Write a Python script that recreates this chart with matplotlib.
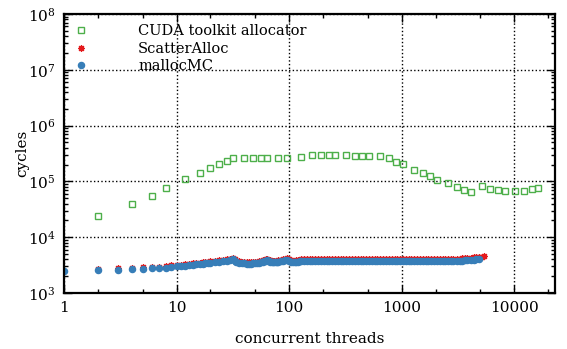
import matplotlib
matplotlib.use("Agg")
import matplotlib.pyplot as plt
from matplotlib.ticker import LogLocator, LogFormatterMathtext, FixedLocator, FixedFormatter, NullFormatter

plt.rcParams['font.family'] = 'DejaVu Serif'
plt.rcParams['mathtext.fontset'] = 'dejavuserif'

# CUDA toolkit allocator
cuda_x = [2, 4, 6, 8, 12, 16, 20, 24, 28, 32, 40, 48, 56, 64, 80, 96, 128, 160, 192, 224,
          256, 320, 384, 448, 512, 640, 768, 896, 1024, 1280, 1536, 1792, 2048, 2560, 3072,
          3584, 4096, 5120, 6144, 7168, 8192, 10240, 12288, 14336, 16384]
cuda_y = [23800, 39400, 55600, 76300, 108600, 139000, 170700, 201000, 231400, 261600,
          257500, 257500, 261600, 261600, 261600, 265000, 268500, 300000, 300000, 300000,
          300000, 296000, 291000, 291000, 291000, 287500, 257500, 225000, 201000, 160000,
          139000, 122700, 107200, 92000, 78100, 71100, 63600, 82800, 74200, 71100, 66200,
          68200, 68200, 71900, 75000]

# thread counts, small part (1..124) and flat part (128..4864)
low_x = [1, 2, 3, 4, 5, 6, 7, 8, 9, 10, 11, 12, 13, 14, 15, 16, 17, 18, 19, 20,
         22, 24, 26, 28, 30, 32,
         33, 34, 36, 38, 40, 42, 44, 46, 48, 50, 52, 54, 56, 58, 60, 62, 64,
         66, 68, 70, 72, 74, 76, 78, 80,
         84, 88, 92, 96, 100, 104, 108, 112, 116, 120, 124]
high_x = [128, 136, 144, 152, 160, 170, 180, 192,
          204, 216, 228, 240, 256, 272, 288, 304,
          320, 340, 360, 384, 408, 432, 456, 480,
          512, 544, 576, 608, 640, 680, 720, 768,
          816, 864, 912, 960, 1024, 1088, 1152, 1216,
          1280, 1360, 1440, 1536, 1632, 1728, 1824, 1920,
          2048, 2176, 2304, 2432, 2560, 2720, 2880, 3072,
          3264, 3456, 3648, 3840, 4096, 4352, 4608, 4864]

# mallocMC
mmc_low_y = [2441, 2576, 2617, 2683, 2728, 2761, 2796, 2842, 2937, 2990, 3050, 3110, 3160, 3210,
             3260, 3300, 3340, 3390, 3430, 3470,
             3540, 3620, 3700, 3790, 3880, 4000,
             3800, 3600, 3480, 3420, 3380, 3360, 3350, 3360, 3380, 3400, 3440, 3490, 3550, 3620,
             3700, 3780, 3860,
             3700, 3620, 3580, 3560, 3560, 3570, 3600, 3640,
             3700, 3780, 3860, 3950, 3800, 3650, 3600, 3600, 3620, 3650, 3700]
mmc_high_y = [3820, 3800, 3810, 3790, 3800, 3810, 3800, 3790,
              3800, 3810, 3800, 3800, 3790, 3800, 3810, 3800,
              3800, 3790, 3800, 3800, 3810, 3800, 3790, 3800,
              3800, 3790, 3800, 3800, 3810, 3800, 3790, 3800,
              3800, 3800, 3790, 3800, 3810, 3800, 3790, 3800,
              3800, 3800, 3790, 3800, 3800, 3810, 3800, 3800,
              3790, 3800, 3800, 3810, 3800, 3800, 3790, 3800,
              3800, 3820, 3850, 3880, 3920, 3960, 4000, 4050]

# ScatterAlloc (starts at 2 threads, ends a bit later)
sa_low_y = [2720, 2770, 2840, 2890, 2930, 2970, 3020, 3120, 3180, 3240, 3300, 3350, 3410, 3460,
            3500, 3540, 3590, 3640, 3680,
            3750, 3840, 3920, 4020, 4110, 4240,
            4030, 3820, 3690, 3620, 3580, 3560, 3550, 3560, 3580, 3600, 3650, 3700, 3760, 3840,
            3920, 4000, 4090,
            3920, 3840, 3790, 3770, 3770, 3780, 3820, 3860,
            3920, 4000, 4090, 4190, 4030, 3870, 3820, 3820, 3840, 3870, 3920]
sa_high_y = [4050, 4040, 4050, 4040, 4050, 4050, 4040, 4040,
             4050, 4050, 4040, 4050, 4040, 4050, 4050, 4040,
             4050, 4040, 4050, 4050, 4050, 4040, 4040, 4050,
             4050, 4040, 4050, 4050, 4050, 4040, 4040, 4050,
             4050, 4050, 4040, 4050, 4050, 4040, 4040, 4050,
             4050, 4050, 4040, 4050, 4050, 4050, 4040, 4050,
             4040, 4050, 4050, 4050, 4040, 4060, 4080, 4100,
             4130, 4170, 4200, 4230, 4280, 4330, 4380, 4420]
sa_tail_x = [5120, 5376]
sa_tail_y = [4500, 4580]

mmc_x = low_x + high_x
mmc_y = mmc_low_y + mmc_high_y
sa_x = low_x[1:] + high_x + sa_tail_x
sa_y = sa_low_y + sa_high_y + sa_tail_y

green = '#4daf4a'
red = '#e41a1c'
blue = '#377eb8'

fig = plt.figure(figsize=(5.67, 3.49), dpi=100)
ax = fig.add_axes([64 / 567, 1 - 293 / 349, (555 - 64) / 567, (293 - 14) / 349])

ax.plot(cuda_x, cuda_y, 's', ms=3.8, mfc='none', mec=green, mew=1.0, ls='none',
        label='CUDA toolkit allocator')
ax.plot(sa_x, sa_y, marker=(8, 2, 0), ms=4.8, color=red, mew=0.9, ls='none',
        label='ScatterAlloc')
ax.plot(mmc_x, mmc_y, 'o', ms=4.4, color=blue, mec=blue, ls='none', label='mallocMC')

ax.set_xscale('log')
ax.set_yscale('log')
ax.set_xlim(1, 23000)
ax.set_ylim(1e3, 1e8)

ax.xaxis.set_major_locator(FixedLocator([1, 10, 100, 1000, 10000]))
ax.xaxis.set_major_formatter(FixedFormatter(['1', '10', '100', '1000', '10000']))
ax.xaxis.set_minor_locator(LogLocator(base=10, subs=[2, 5], numticks=20))
ax.xaxis.set_minor_formatter(NullFormatter())
ax.yaxis.set_major_locator(LogLocator(base=10, numticks=10))
ax.yaxis.set_major_formatter(LogFormatterMathtext())
ax.yaxis.set_minor_locator(LogLocator(base=10, subs=range(2, 10), numticks=20))
ax.yaxis.set_minor_formatter(NullFormatter())

ax.tick_params(which='both', direction='in', top=True, right=True, labelsize=11, width=1)
ax.tick_params(which='major', length=6, pad=6)
ax.tick_params(which='minor', length=3)
for s in ax.spines.values():
    s.set_linewidth(1.6)

ax.grid(True, which='major', color='black', ls=':', lw=1.0)

ax.set_xlabel('concurrent threads', fontsize=11, labelpad=12)
ax.set_ylabel('cycles', fontsize=11, labelpad=-1)

ax.legend(loc='upper left', bbox_to_anchor=(74 / 567, 1 - 24 / 349),
          bbox_transform=fig.transFigure, frameon=False, fontsize=10.5,
          borderpad=0, borderaxespad=0, handlelength=1.0, handletextpad=3.4,
          labelspacing=0.25, numpoints=1)

fig.savefig('out.png', dpi=100)
